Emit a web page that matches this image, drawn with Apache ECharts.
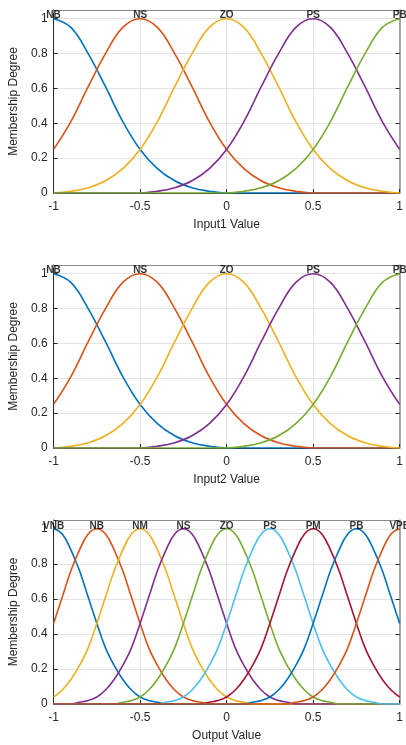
<!DOCTYPE html>
<html lang="en">
<head>
    <meta charset="UTF-8">
    <title>Membership Functions</title>
    <script src="https://cdn.jsdelivr.net/npm/echarts@6/dist/echarts.min.js"></script>
    <style>
        html, body { margin: 0; padding: 0; background: #fff; }
        #chart { width: 406px; height: 745px; }
    </style>
</head>
<body>
    <div id="chart"></div>
    <script>
        // input universe, step 0.1
        const inX = [-1, -0.9, -0.8, -0.7, -0.6, -0.5, -0.4, -0.3, -0.2, -0.1, 0,
                     0.1, 0.2, 0.3, 0.4, 0.5, 0.6, 0.7, 0.8, 0.9, 1];
        const inNames = ['NB', 'NS', 'ZO', 'PS', 'PB'];
        const inCenters = [-1, -0.5, 0, 0.5, 1];
        const inNB = [1, .95, .80, .61, .41, .25, .14, .07, .03, .01, 0, 0, 0, 0, 0, 0, 0, 0, 0, 0, 0];
        const inNS = [.25, .41, .61, .80, .95, 1, .95, .80, .61, .41, .25, .14, .07, .03, .01, 0, 0, 0, 0, 0, 0];
        const inZO = [0, .01, .03, .07, .14, .25, .41, .61, .80, .95, 1, .95, .80, .61, .41, .25, .14, .07, .03, .01, 0];
        const inPS = [0, 0, 0, 0, 0, 0, .01, .03, .07, .14, .25, .41, .61, .80, .95, 1, .95, .80, .61, .41, .25];
        const inPB = [0, 0, 0, 0, 0, 0, 0, 0, 0, 0, 0, .01, .03, .07, .14, .25, .41, .61, .80, .95, 1];

        // output universe, step 0.05
        const outX = [-1, -0.95, -0.9, -0.85, -0.8, -0.75, -0.7, -0.65, -0.6, -0.55,
                      -0.5, -0.45, -0.4, -0.35, -0.3, -0.25, -0.2, -0.15, -0.1, -0.05, 0,
                      0.05, 0.1, 0.15, 0.2, 0.25, 0.3, 0.35, 0.4, 0.45, 0.5,
                      0.55, 0.6, 0.65, 0.7, 0.75, 0.8, 0.85, 0.9, 0.95, 1];
        const outNames = ['VNB', 'NB', 'NM', 'NS', 'ZO', 'PS', 'PM', 'PB', 'VPB'];
        const outCenters = [-1, -0.75, -0.5, -0.25, 0, 0.25, 0.5, 0.75, 1];
        const outVNB = [1, .97, .88, .76, .61, .46, .32, .22, .14, .08, .04, .02, .01,
                        0, 0, 0, 0, 0, 0, 0, 0, 0, 0,
                        0, 0, 0, 0, 0, 0, 0, 0, 0, 0,
                        0, 0, 0, 0, 0, 0, 0, 0];
        const outNB = [.46, .61, .76, .88, .97, 1, .97, .88, .76, .61, .46, .32, .22, .14, .08, .04, .02, .01,
                       0, 0, 0, 0, 0, 0, 0, 0, 0, 0,
                       0, 0, 0, 0, 0, 0, 0, 0, 0, 0,
                       0, 0, 0];
        const outNM = [.04, .08, .14, .22, .32, .46, .61, .76, .88, .97, 1, .97, .88, .76, .61, .46, .32, .22, .14, .08, .04, .02, .01,
                       0, 0, 0, 0, 0, 0, 0, 0, 0, 0,
                       0, 0, 0, 0, 0, 0, 0, 0];
        const outNS = [0, 0, 0, .01, .02, .04, .08, .14, .22, .32, .46, .61, .76, .88, .97, 1,
                       .97, .88, .76, .61, .46, .32, .22, .14, .08, .04, .02, .01,
                       0, 0, 0, 0, 0, 0, 0, 0, 0, 0, 0, 0, 0];
        const outZO = [0, 0, 0, 0, 0, 0, 0, 0, .01, .02, .04, .08, .14, .22, .32, .46, .61, .76, .88, .97, 1,
                       .97, .88, .76, .61, .46, .32, .22, .14, .08, .04, .02, .01, 0, 0, 0, 0, 0, 0, 0, 0];
        const outPS = [0, 0, 0, 0, 0, 0, 0, 0, 0, 0, 0, 0, 0,
                       .01, .02, .04, .08, .14, .22, .32, .46, .61, .76, .88, .97, 1,
                       .97, .88, .76, .61, .46, .32, .22, .14, .08, .04, .02, .01, 0, 0, 0];
        const outPM = [0, 0, 0, 0, 0, 0, 0, 0, 0, 0,
                       0, 0, 0, 0, 0, 0, 0, 0,
                       .01, .02, .04, .08, .14, .22, .32, .46, .61, .76, .88, .97, 1,
                       .97, .88, .76, .61, .46, .32, .22, .14, .08, .04];
        const outPB = [0, 0, 0, 0, 0, 0, 0, 0, 0, 0,
                       0, 0, 0, 0, 0, 0, 0, 0, 0, 0, 0, 0, 0,
                       .01, .02, .04, .08, .14, .22, .32, .46, .61, .76, .88, .97, 1,
                       .97, .88, .76, .61, .46];
        const outVPB = [0, 0, 0, 0, 0, 0, 0, 0, 0, 0,
                        0, 0, 0, 0, 0, 0, 0, 0, 0, 0,
                        0, 0, 0, 0, 0, 0, 0, 0,
                        .01, .02, .04, .08, .14, .22, .32, .46, .61, .76, .88, .97, 1];

        // MATLAB default colour order
        const inColors = ['#0072BD', '#D95319', '#EDB120', '#7E2F8E', '#77AC30'];
        const outColors = ['#0072BD', '#D95319', '#EDB120', '#7E2F8E', '#77AC30',
                           '#4DBEEE', '#A2142F', '#0072BD', '#D95319'];

        const panels = [
            { title: 'Input1 Value', top: 10, height: 183, x: inX, curves: [inNB, inNS, inZO, inPS, inPB], names: inNames, centers: inCenters, colors: inColors },
            { title: 'Input2 Value', top: 265, height: 183, x: inX, curves: [inNB, inNS, inZO, inPS, inPB], names: inNames, centers: inCenters, colors: inColors },
            { title: 'Output Value', top: 520, height: 184, x: outX,
              curves: [outVNB, outNB, outNM, outNS, outZO, outPS, outPM, outPB, outVPB],
              names: outNames, centers: outCenters, colors: outColors }
        ];

        const font = '"Liberation Sans", Arial, sans-serif';
        const dark = '#262626';
        const boxGray = '#8c8c8c';

        const grid = [], xAxis = [], yAxis = [], series = [];

        panels.forEach((p, k) => {
            grid.push({ left: 50, right: 6, top: p.top, height: p.height, containLabel: false });

            // bottom x axis (main)
            xAxis.push({
                type: 'value', gridIndex: k, min: -1, max: 1, interval: 0.5,
                name: p.title, nameLocation: 'middle', nameGap: 26,
                nameTextStyle: { fontFamily: font, fontSize: 12, color: dark },
                axisLine: { show: true, onZero: false, lineStyle: { color: dark, width: 1 } },
                axisTick: { show: true, inside: true, length: 4, lineStyle: { color: dark } },
                axisLabel: { fontFamily: font, fontSize: 12, color: dark, margin: 8 },
                splitLine: { show: true, lineStyle: { color: '#e3e3e3', width: 1 } }
            });
            // top x axis (box)
            xAxis.push({
                type: 'value', gridIndex: k, min: -1, max: 1, interval: 0.5, position: 'top',
                axisLine: { show: true, onZero: false, lineStyle: { color: boxGray, width: 1 } },
                axisTick: { show: true, inside: true, length: 3, lineStyle: { color: boxGray } },
                axisLabel: { show: false }, splitLine: { show: false }
            });
            // left y axis (main)
            yAxis.push({
                type: 'value', gridIndex: k, min: 0, max: 1.05, interval: 0.2, position: 'left',
                name: 'Membership Degree', nameLocation: 'middle', nameGap: 31,
                nameTextStyle: { fontFamily: font, fontSize: 12, color: dark },
                axisLine: { show: true, onZero: false, lineStyle: { color: dark, width: 1 } },
                axisTick: { show: true, inside: true, length: 4, lineStyle: { color: dark } },
                axisLabel: {
                    fontFamily: font, fontSize: 12, color: dark, margin: 6,
                    formatter: v => (v > 1.001 ? '' : String(+v.toFixed(1)))
                },
                splitLine: { show: true, lineStyle: { color: '#e3e3e3', width: 1 } }
            });
            // right y axis (box)
            yAxis.push({
                type: 'value', gridIndex: k, min: 0, max: 1.05, interval: 0.2, position: 'right',
                axisLine: { show: true, onZero: false, lineStyle: { color: boxGray, width: 1.5 } },
                axisTick: { show: true, inside: true, length: 4, lineStyle: { color: dark } },
                axisLabel: { show: false }, splitLine: { show: false }
            });

            p.curves.forEach((ys, i) => {
                series.push({
                    type: 'line', xAxisIndex: k * 2, yAxisIndex: k * 2,
                    data: p.x.map((x, j) => [x, ys[j]]),
                    smooth: 0.4, symbol: 'none',
                    lineStyle: { color: p.colors[i], width: 1.6 },
                    itemStyle: { color: p.colors[i] },
                    clip: true
                });
            });

            // membership function names at each peak
            series.push({
                type: 'scatter', xAxisIndex: k * 2, yAxisIndex: k * 2,
                data: p.centers.map((c, i) => [c, 1, p.names[i]]),
                symbolSize: 1, itemStyle: { color: 'rgba(0,0,0,0)' },
                clip: false, z: 10,
                label: {
                    show: true, position: 'inside', offset: [0, -3],
                    formatter: d => d.data[2],
                    fontFamily: font, fontSize: 10, fontWeight: 'bold', color: '#000'
                }
            });
        });

        const chart = echarts.init(document.getElementById('chart'), null, { renderer: 'canvas' });
        chart.setOption({
            animation: false,
            backgroundColor: '#fff',
            grid, xAxis, yAxis, series
        });
    </script>
</body>
</html>
